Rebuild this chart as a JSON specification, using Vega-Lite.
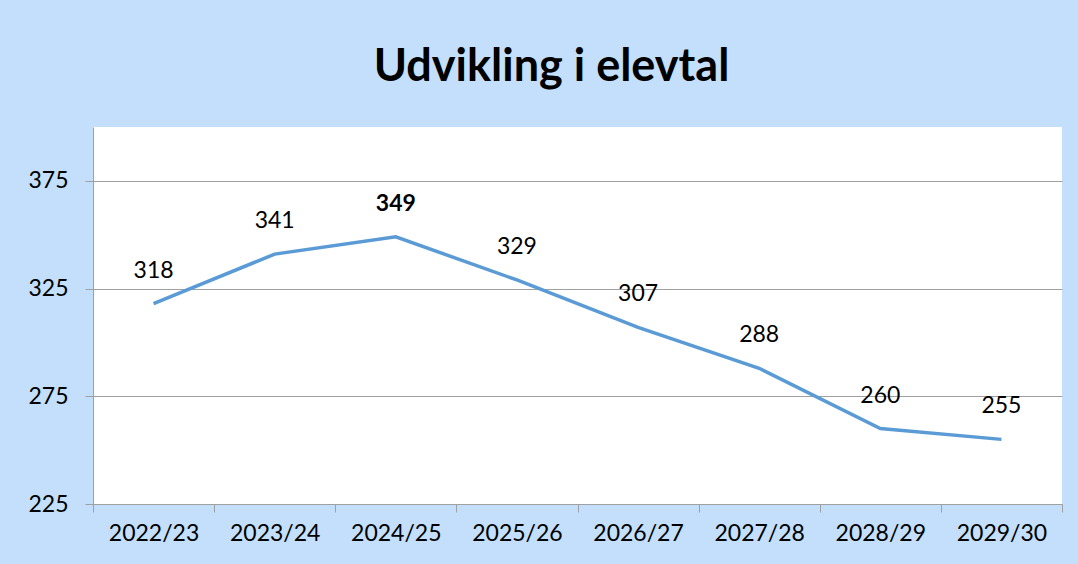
{
  "$schema": "https://vega.github.io/schema/vega-lite/v6.json",
  "autosize": {"type": "none"},
  "padding": {"left": 93, "top": 127, "right": 16, "bottom": 60},
  "width": 969,
  "height": 377,
  "background": "#c3dffc",
  "title": {
    "text": "Udvikling i elevtal",
    "font": "Lato",
    "fontSize": 45,
    "fontWeight": "bold",
    "color": "#000000",
    "anchor": "middle",
    "baseline": "alphabetic",
    "offset": 1,
    "dx": -26
  },
  "config": {
    "view": {"fill": "#ffffff", "stroke": null},
    "axis": {
      "labelFont": "Lato",
      "labelFontSize": 23,
      "labelColor": "#000000",
      "domainColor": "#a0a0a0",
      "tickColor": "#a0a0a0",
      "gridColor": "#a0a0a0",
      "tickSize": 8,
      "title": null
    }
  },
  "data": {
    "values": [
      {"year": "2022/23", "elever": 318},
      {"year": "2023/24", "elever": 341},
      {"year": "2024/25", "elever": 349},
      {"year": "2025/26", "elever": 329},
      {"year": "2026/27", "elever": 307},
      {"year": "2027/28", "elever": 288},
      {"year": "2028/29", "elever": 260},
      {"year": "2029/30", "elever": 255}
    ]
  },
  "encoding": {
    "x": {
      "field": "year",
      "type": "ordinal",
      "sort": null,
      "scale": {"type": "band", "paddingInner": 0, "paddingOuter": 0},
      "axis": {"labelAngle": 0, "tickBand": "extent", "grid": false, "labelPadding": 10, "domain": true}
    },
    "y": {
      "field": "elever",
      "type": "quantitative",
      "scale": {"domain": [225, 400], "nice": false, "zero": false},
      "axis": {"values": [225, 275, 325, 375], "grid": true, "labelPadding": 17, "domain": true}
    }
  },
  "layer": [
    {
      "mark": {"type": "line", "color": "#5b9bd5", "strokeWidth": 3.5}
    },
    {
      "transform": [{"filter": "datum.year != '2024/25'"}],
      "mark": {"type": "text", "font": "Lato", "fontSize": 23, "dy": -33, "baseline": "middle", "color": "#000000"},
      "encoding": {"text": {"field": "elever", "type": "quantitative"}}
    },
    {
      "transform": [{"filter": "datum.year == '2024/25'"}],
      "mark": {"type": "text", "font": "Lato", "fontSize": 23, "fontWeight": "bold", "dy": -33, "baseline": "middle", "color": "#000000"},
      "encoding": {"text": {"field": "elever", "type": "quantitative"}}
    }
  ]
}
